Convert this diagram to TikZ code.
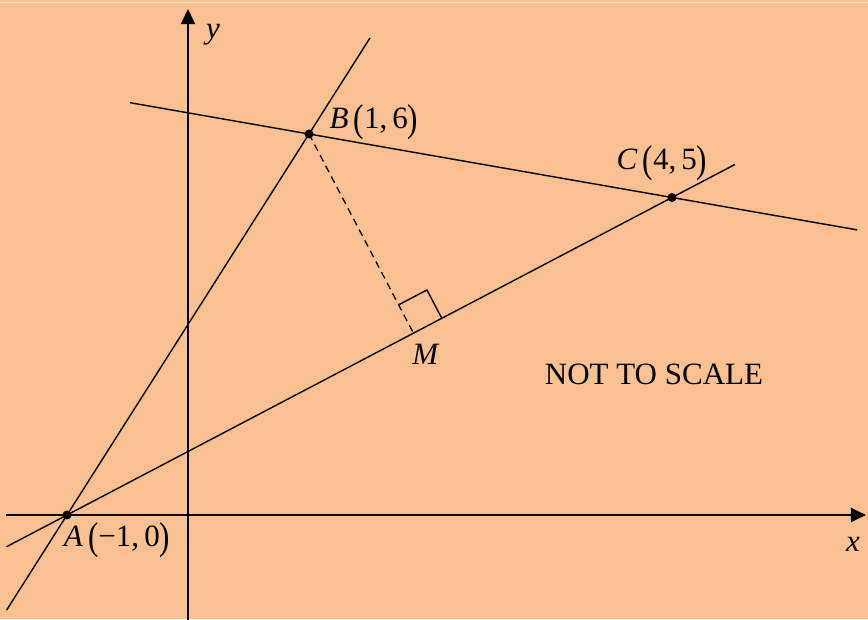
\documentclass[tikz,border=0pt]{standalone}
\usepackage{fontspec}
\setmainfont{LiberationSerif}[Extension=.ttf,UprightFont=*-Regular,ItalicFont=*-Italic,BoldFont=*-Bold]
\usetikzlibrary{calc,arrows.meta}
\definecolor{bg}{RGB}{249,192,145}
\definecolor{topline}{RGB}{252,220,192}
\newcommand{\lp}{\raisebox{-0.1em}{\scalebox{1}[1.25]{(}}}
\newcommand{\rp}{\raisebox{-0.1em}{\scalebox{1}[1.25]{)}}}
\begin{document}
\begin{tikzpicture}[x=121pt,y=63.5pt,
  every node/.style={font=\rmfamily\fontsize{31}{34}\selectfont, inner sep=0pt},
  axis/.style={line width=2pt,-{Triangle[length=15pt,width=14pt]}},
  geomline/.style={line width=1.4pt},
  dot/.style={circle,fill=black,minimum size=9pt,inner sep=0pt},
  dashline/.style={line width=1.3pt,dash pattern=on 7pt off 5pt}]
\fill[bg] (-1.55372,-1.63780) rectangle (5.61983,8.11024);
\useasboundingbox (-1.55372,-1.63780) rectangle (5.61983,8.11024);
\draw[topline,line width=1pt] (-1.55372,8.063) -- (5.61983,8.063);
% points
\coordinate (O) at (0,0);
\coordinate (A) at (-1,0);
\coordinate (B) at (1,6);
\coordinate (C) at (4,5);
\coordinate (M) at ($(A)!(B)!(C)$);
% axes
\coordinate (xs) at (-1.5,0);
\coordinate (xe) at (5.603,0);
\coordinate (ys) at (0,-1.7);
\coordinate (ye) at (0,7.968);
\draw[axis] (xs) -- (xe);
\draw[axis] (ys) -- (ye);
% lines
\coordinate (AB1) at (-1.5,-1.5);
\coordinate (AB2) at (1.504,7.512);
\coordinate (AC1) at (-1.5,-0.5);
\coordinate (AC2) at (4.52,5.52);
\coordinate (BC1) at (-0.479,6.493);
\coordinate (BC2) at (5.53,4.49);
\draw[geomline] (AB1) -- (AB2);
\draw[geomline] (AC1) -- (AC2);
\draw[geomline] (BC1) -- (BC2);
% perpendicular
\draw[dashline] (B) -- (M);
\coordinate (M1) at ($(M)!32pt!(C)$);
\coordinate (M2) at ($(M)!32pt!(B)$);
\draw[geomline] (M1) -- ($(M1)+(M2)-(M)$) -- (M2);
% dots
\node[dot] (Ad) at (A) {};
\node[dot] (Bd) at (B) {};
\node[dot] (Cd) at (C) {};
% labels
\node (ylab) at (0.2066,7.559) {\textit{y}};
\node (xlab) at (5.496,-0.457) {\textit{x}};
\node (Blab) at (1.537,6.189) {\textit{B}\,\lp1,\,6\rp};
\node (Clab) at (3.917,5.543) {\textit{C}\,\lp4,\,5\rp};
\node (Alab) at (-0.587,-0.394) {\textit{A}\,\lp−1,\,0\rp};
\node (Mlab) at (1.967,2.535) {\textit{M}};
\node (nts) at (3.851,2.220) {NOT TO SCALE};
\end{tikzpicture}
\end{document}
